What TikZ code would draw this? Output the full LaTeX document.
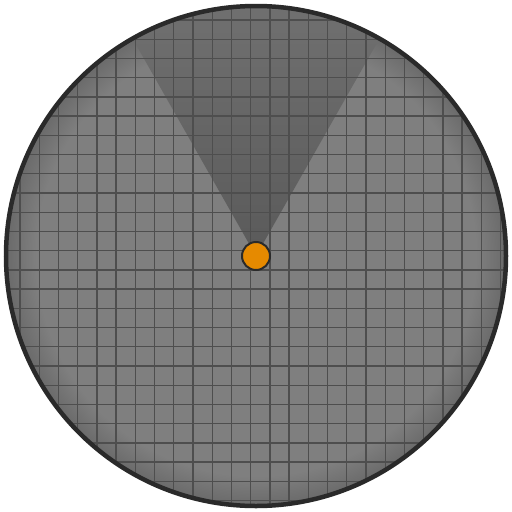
\documentclass[tikz,border=0pt]{standalone}
\usetikzlibrary{calc}
\definecolor{bggray}{RGB}{127,127,127}
\definecolor{edgegray}{RGB}{108,108,108}
\definecolor{gridline}{RGB}{78,78,78}
\definecolor{rimcol}{RGB}{42,42,42}
\definecolor{dotorange}{RGB}{230,138,0}
\definecolor{conetop}{RGB}{116,116,116}
\definecolor{conebot}{RGB}{90,90,90}
\pgfdeclareradialshading{vignette}{\pgfpoint{0bp}{0bp}}{%
  color(0bp)=(bggray); color(22bp)=(bggray); color(24.7bp)=(edgegray); color(50bp)=(edgegray)}
\tikzset{
  rim/.style={draw=rimcol, line width=4.5pt},
  gridstroke/.style={draw=gridline, line width=1.4pt},
  dotstyle/.style={circle, fill=dotorange, draw=rimcol, line width=2pt, minimum size=28pt, inner sep=0pt}
}
\begin{document}
\begin{tikzpicture}[x=1pt,y=-1pt]
\useasboundingbox (0,0) rectangle (512,512);
\coordinate (c) at (256,256);
\coordinate (cl) at (99.3,-20);
\coordinate (cr) at (412.7,-20);
\begin{scope}
  \clip (c) circle (250);
  \shade[shading=vignette] (c) circle (250);
  \shade[top color=conetop, bottom color=conebot] (c) -- ($(c)!1.08!(cl)$) -- ($(c)!1.08!(cr)$) -- cycle;
  \foreach \k in {1,...,26} {
    \pgfmathsetmacro{\p}{0.8+19.22*\k}
    \draw[gridstroke] (\p,0) -- (\p,512);
    \draw[gridstroke] (0,\p) -- (512,\p);
  }
\end{scope}
\draw[rim] (c) circle (250);
\node[dotstyle] (dot) at (c) {};
\end{tikzpicture}
\end{document}
